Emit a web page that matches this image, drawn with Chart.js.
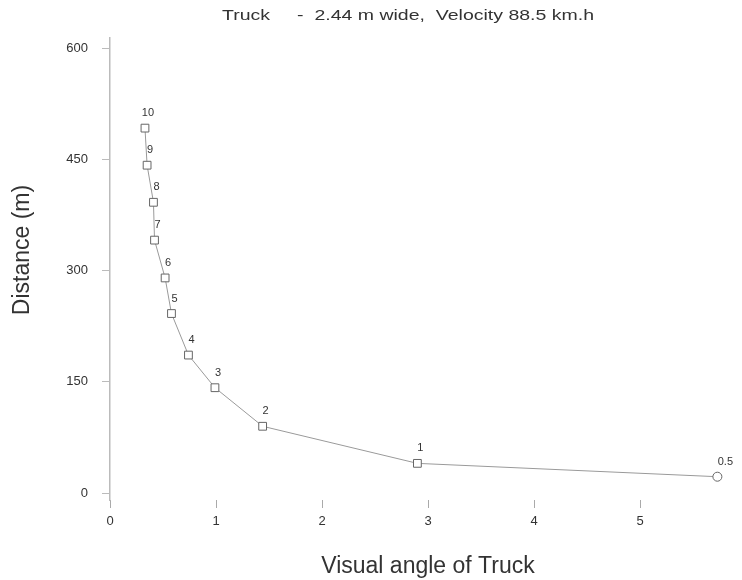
<!DOCTYPE html>
<html>
<head>
  <meta charset="utf-8">
  <script src="https://cdn.jsdelivr.net/npm/chart.js@4/dist/chart.umd.min.js"></script>
  <style>
    html, body { margin: 0; padding: 0; background: #fff; overflow: hidden; }
  </style>
</head>
<body>
<canvas id="angleChart" width="756" height="580"></canvas>
<script>
  // values
  const stepLabels = ['0.5', '1', '2', '3', '4', '5', '6', '7', '8', '9', '10'];
  const visualAngle = [5.73, 2.90, 1.44, 0.99, 0.74, 0.58, 0.52, 0.42, 0.41, 0.35, 0.33];
  const distance = [22, 40, 90, 142, 186, 242, 290, 341, 392, 442, 492];
  const xTicks = [0, 1, 2, 3, 4, 5, 6];
  const yTicks = [0, 150, 300, 450, 600];

  const chartTitle = 'Truck     -  2.44 m wide,  Velocity 88.5 km.h';
  const yTitle = 'Distance (m)';
  const xTitle = 'Visual angle of Truck';

  const FONT = "'Liberation Sans', Arial, sans-serif";

  // title, y title and the step numbers next to each marker
  const textPlugin = {
    id: 'textPlugin',
    afterDatasetsDraw(chart) {
      const ctx = chart.ctx;
      const xs = chart.scales.x, ys = chart.scales.y;
      ctx.save();
      ctx.fillStyle = '#333';
      ctx.textAlign = 'center';
      ctx.textBaseline = 'middle';

      // the scanned title is short but stretched wide
      ctx.save();
      ctx.translate(408, 16);
      ctx.scale(1.3, 1);
      ctx.font = '15px ' + FONT;
      ctx.fillText(chartTitle, 0, 0);
      ctx.restore();

      ctx.font = '11px ' + FONT;
      stepLabels.forEach((lab, i) => {
        const px = xs.getPixelForValue(visualAngle[i]);
        const py = ys.getPixelForValue(distance[i]);
        ctx.fillText(lab, px + (i === 0 ? 8 : 3), py - 15);
      });

      ctx.translate(23, 250);
      ctx.rotate(-Math.PI / 2);
      ctx.font = '23px ' + FONT;
      ctx.fillText(yTitle, 0, 0);
      ctx.restore();
    }
  };

  new Chart(document.getElementById('angleChart'), {
    type: 'line',
    data: {
      datasets: [{
        data: visualAngle.map((v, i) => ({x: v, y: distance[i]})),
        borderColor: '#9a9a9a',
        borderWidth: 1,
        backgroundColor: '#fff',
        pointBorderColor: '#666',
        pointBorderWidth: 1,
        pointStyle: ctx => ctx.dataIndex === 0 ? 'circle' : 'rect',
        pointRadius: ctx => ctx.dataIndex === 0 ? 4.5 : 5.5,
        tension: 0
      }]
    },
    options: {
      responsive: false,
      animation: false,
      layout: { padding: { top: 38, right: 10, left: 0, bottom: 0 } },
      plugins: {
        legend: { display: false },
        tooltip: { enabled: false }
      },
      scales: {
        x: {
          type: 'linear',
          min: 0,
          max: 6,
          afterBuildTicks: s => { s.ticks = xTicks.map(v => ({value: v})); },
          afterFit: s => { s.height = 80; },
          border: { display: false },
          grid: { drawOnChartArea: false, tickLength: 8, color: '#aaa' },
          ticks: { color: '#333', font: { family: FONT, size: 13 }, padding: 6 },
          title: {
            display: true,
            text: xTitle,
            color: '#333',
            font: { family: FONT, size: 23 },
            padding: { top: 0, bottom: 0 }
          }
        },
        y: {
          min: -9.4,
          max: 613.5,
          afterBuildTicks: s => { s.ticks = yTicks.map(v => ({value: v})); },
          afterFit: s => { s.width = 110; },
          border: { display: true, color: '#bbb', width: 1.5 },
          grid: { drawOnChartArea: false, tickLength: 8, color: '#bbb' },
          ticks: { color: '#333', font: { family: FONT, size: 13 }, padding: 14 }
        }
      }
    },
    plugins: [textPlugin]
  });
</script>
</body>
</html>
